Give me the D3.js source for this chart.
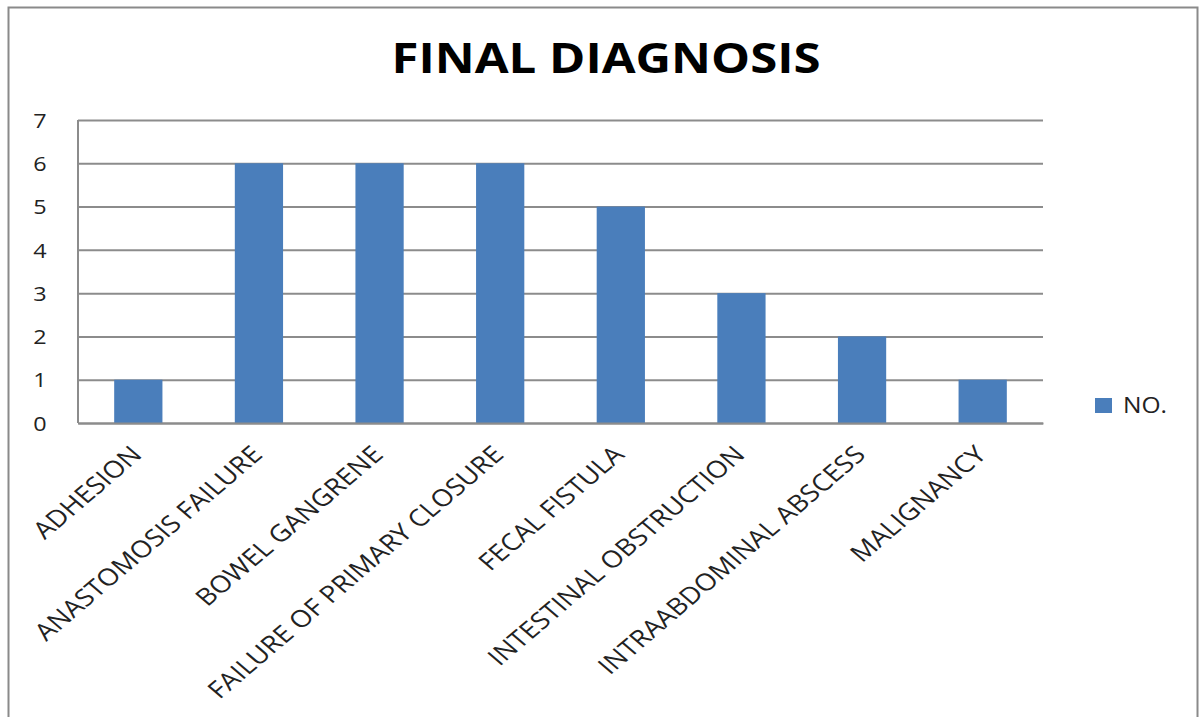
<!DOCTYPE html>
<html>
<head>
<meta charset="utf-8">
<script src="https://cdn.jsdelivr.net/npm/d3@7"></script>
<style>
  html, body { margin: 0; padding: 0; background: #fff; }
  svg { display: block; }
</style>
</head>
<body>
<svg id="chart" width="1199" height="717"></svg>
<script>
// Final diagnosis counts
const categories = [
  "ADHESION",
  "ANASTOMOSIS FAILURE",
  "BOWEL GANGRENE",
  "FAILURE OF PRIMARY CLOSURE",
  "FECAL FISTULA",
  "INTESTINAL OBSTRUCTION",
  "INTRAABDOMINAL ABSCESS",
  "MALIGNANCY"
];
const counts = [1, 6, 6, 6, 5, 3, 2, 1];
const yTicks = [0, 1, 2, 3, 4, 5, 6, 7];
const seriesName = "NO.";
const titleText = "FINAL DIAGNOSIS";

const svg = d3.select("#chart");
const W = 1199, H = 717;
const font = "'Open Sans', 'Liberation Sans', sans-serif";
const barColor = "#4a7ebb";
const gridColor = "#8c8c8c";
const textColor = "#222";
const stretch = 1.17; // the whole figure is drawn slightly widened

// outer frame
svg.append("rect")
  .attr("x", 8.5).attr("y", 7.5)
  .attr("width", W - 10).attr("height", H + 20)
  .attr("fill", "#fff")
  .attr("stroke", "#8a8a8a").attr("stroke-width", 2);

const plot = { left: 78, right: 1043, top: 120, bottom: 423 };

const x = d3.scaleBand()
  .domain(categories)
  .range([plot.left, plot.right])
  .paddingInner(0.6)
  .paddingOuter(0.3);

const y = d3.scaleLinear()
  .domain([0, 7])
  .range([plot.bottom, plot.top]);

// title
svg.append("text")
  .attr("transform", `translate(606,73) scale(${stretch},1)`)
  .attr("text-anchor", "middle")
  .attr("font-family", font)
  .attr("font-weight", "bold")
  .attr("font-size", 42)
  .attr("fill", "#000")
  .text(titleText);

// horizontal gridlines + y labels
const yAxis = d3.axisLeft(y)
  .tickValues(yTicks)
  .tickSize(-(plot.right - plot.left))
  .tickFormat(d3.format("d"));

const gy = svg.append("g")
  .attr("transform", `translate(${plot.left},0)`)
  .call(yAxis);
gy.select(".domain").remove();
gy.selectAll(".tick line")
  .attr("stroke", gridColor).attr("stroke-width", 2);
gy.selectAll(".tick text")
  .attr("x", 0)
  .attr("dy", "0.36em")
  .attr("transform", `translate(-38,0) scale(${stretch},1)`)
  .attr("font-family", font)
  .attr("font-size", 20)
  .attr("fill", textColor)
  .attr("text-anchor", "middle");

// left axis line
svg.append("line")
  .attr("x1", plot.left).attr("x2", plot.left)
  .attr("y1", plot.top).attr("y2", plot.bottom)
  .attr("stroke", gridColor).attr("stroke-width", 2);

// bars
svg.append("g").selectAll("rect")
  .data(categories)
  .join("rect")
  .attr("x", d => x(d))
  .attr("y", (d, i) => y(counts[i]))
  .attr("width", x.bandwidth())
  .attr("height", (d, i) => y(0) - y(counts[i]))
  .attr("fill", barColor);

// x axis with rotated labels
const xAxis = d3.axisBottom(x).tickSize(0).tickPadding(0);
const gx = svg.append("g")
  .attr("transform", `translate(0,${plot.bottom})`)
  .call(xAxis);
gx.select(".domain")
  .attr("stroke", gridColor).attr("stroke-width", 2);
gx.selectAll(".tick text")
  .attr("font-family", font)
  .attr("font-size", 23.8)
  .attr("fill", textColor)
  .attr("text-anchor", "end")
  .attr("y", 0)
  .attr("dy", 0)
  .attr("transform", `translate(5,33) scale(${stretch},1) rotate(-45)`);

// legend
const lg = svg.append("g").attr("transform", "translate(1095,398)");
lg.append("rect")
  .attr("width", 17).attr("height", 15)
  .attr("fill", barColor);
lg.append("text")
  .attr("transform", `translate(28,15) scale(${stretch},1)`)
  .attr("font-family", font)
  .attr("font-size", 21)
  .attr("fill", textColor)
  .text(seriesName);
</script>
</body>
</html>
